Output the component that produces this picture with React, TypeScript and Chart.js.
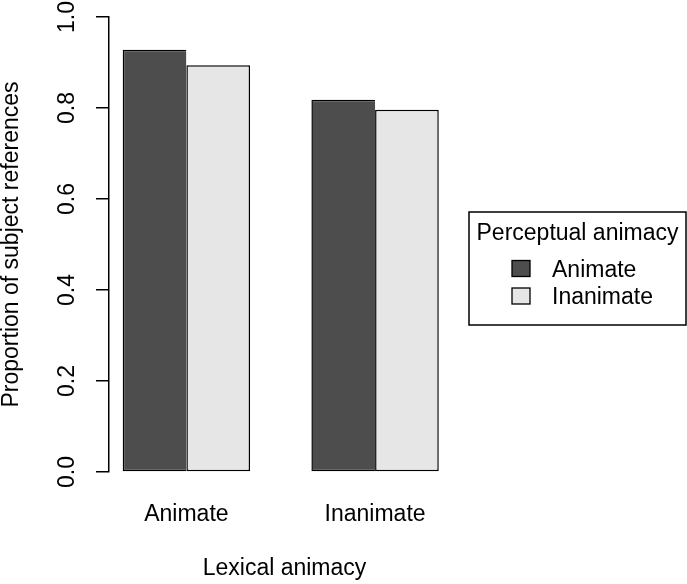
import { Chart, registerables } from "chart.js"
import { useEffect, useRef } from "react"

Chart.register(...registerables)

const CATEGORIES = ["Animate", "Inanimate"]
const SERIES_LABELS = ["Animate", "Inanimate"]
const ANIMATE_VALUES = [0.928, 0.818]
const INANIMATE_VALUES = [0.894, 0.796]
const Y_TICKS = [0, 0.2, 0.4, 0.6, 0.8, 1.0]

const FILLS = ["#4d4d4d", "#e6e6e6"]
const FONT = "'Liberation Sans', Arial, Helvetica, sans-serif"
const TEXT = "#000"

// R-style boxed legend drawn to the right of the plot region
const boxLegend = {
	id: "boxLegend",
	afterDraw(chart: Chart) {
		const ctx = chart.ctx
		const left = 469
		const top = 212
		const w = 217
		const h = 113
		ctx.save()
		ctx.lineWidth = 1.5
		ctx.strokeStyle = "#000"
		ctx.strokeRect(left, top, w, h)
		ctx.font = `23px ${FONT}`
		ctx.fillStyle = TEXT
		ctx.textBaseline = "alphabetic"
		ctx.textAlign = "center"
		ctx.fillText("Perceptual animacy", left + w / 2, 240)
		ctx.textAlign = "left"
		chart.data.datasets.forEach((ds, i) => {
			const base = 276.5 + i * 27.5
			ctx.fillStyle = ds.backgroundColor as string
			ctx.fillRect(512, base - 16, 18, 16)
			ctx.lineWidth = 1.3
			ctx.strokeRect(512, base - 16, 18, 16)
			ctx.fillStyle = TEXT
			ctx.fillText(ds.label ?? "", 552, base)
		})
		ctx.restore()
	},
}

export default function App() {
	const canvasRef = useRef<HTMLCanvasElement>(null)
	const chartRef = useRef<Chart | null>(null)

	useEffect(() => {
		if (!canvasRef.current) return

		const xs = CATEGORIES.map((_, i) => i + 1)
		const datasets = [ANIMATE_VALUES, INANIMATE_VALUES].map((vals, i) => ({
			label: SERIES_LABELS[i],
			data: vals.map((v, j) => ({ x: xs[j], y: v })),
			backgroundColor: FILLS[i],
			borderColor: "#000",
			borderWidth:
				i === 0
					? { top: 1.5, left: 1.5, bottom: 1.5, right: 0 }
					: { top: 1.5, left: 1.5, bottom: 1.5, right: 1.5 },
			borderSkipped: false as const,
			categoryPercentage: 0.675,
			barPercentage: 1,
		}))

		chartRef.current = new Chart(canvasRef.current, {
			type: "bar",
			data: { datasets },
			plugins: [boxLegend],
			options: {
				responsive: false,
				animation: false,
				layout: { padding: { top: 17, right: 227, left: 0, bottom: 0 } },
				plugins: {
					legend: { display: false },
					tooltip: { enabled: false },
				},
				scales: {
					x: {
						type: "linear",
						offset: false,
						min: 0.59,
						max: 2.45,
						afterBuildTicks: (scale) => {
							scale.ticks = xs.map((v) => ({ value: v }))
						},
						afterFit: (scale) => {
							scale.height = 112
							scale.paddingLeft = 0
							scale.paddingRight = 0
						},
						grid: { display: false, drawTicks: false },
						border: { display: false },
						ticks: {
							padding: 31,
							color: TEXT,
							font: { family: FONT, size: 23, lineHeight: 1 },
							callback: (v) => CATEGORIES[Number(v) - 1] ?? "",
						},
						title: {
							display: true,
							text: "Lexical animacy",
							color: TEXT,
							font: { family: FONT, size: 23, lineHeight: 1 },
							padding: { top: 0, bottom: 4 },
						},
					},
					y: {
						min: 0,
						max: 1,
						afterBuildTicks: (scale) => {
							scale.ticks = Y_TICKS.map((v) => ({ value: v }))
						},
						afterFit: (scale) => {
							scale.width = 109
							scale.paddingTop = 0
							scale.paddingBottom = 0
						},
						grid: {
							drawOnChartArea: false,
							drawTicks: true,
							tickLength: 13,
							color: "#000",
							lineWidth: 1.5,
						},
						border: { display: true, color: "#000", width: 1.5 },
						ticks: {
							minRotation: 90,
							maxRotation: 90,
							crossAlign: "center",
							padding: 12,
							color: TEXT,
							font: { family: FONT, size: 23, lineHeight: 1 },
							callback: (v) => Number(v).toFixed(1),
						},
						title: {
							display: true,
							text: "Proportion of subject references",
							color: TEXT,
							font: { family: FONT, size: 23, lineHeight: 1 },
							padding: { top: 0, bottom: 0 },
						},
					},
				},
			},
		})

		return () => {
			chartRef.current?.destroy()
		}
	}, [])

	return (
		<div
			style={{
				position: "absolute",
				left: 0,
				top: 0,
				width: 687,
				height: 584,
				background: "#fff",
			}}
		>
			<canvas ref={canvasRef} width={687} height={584} />
		</div>
	)
}
